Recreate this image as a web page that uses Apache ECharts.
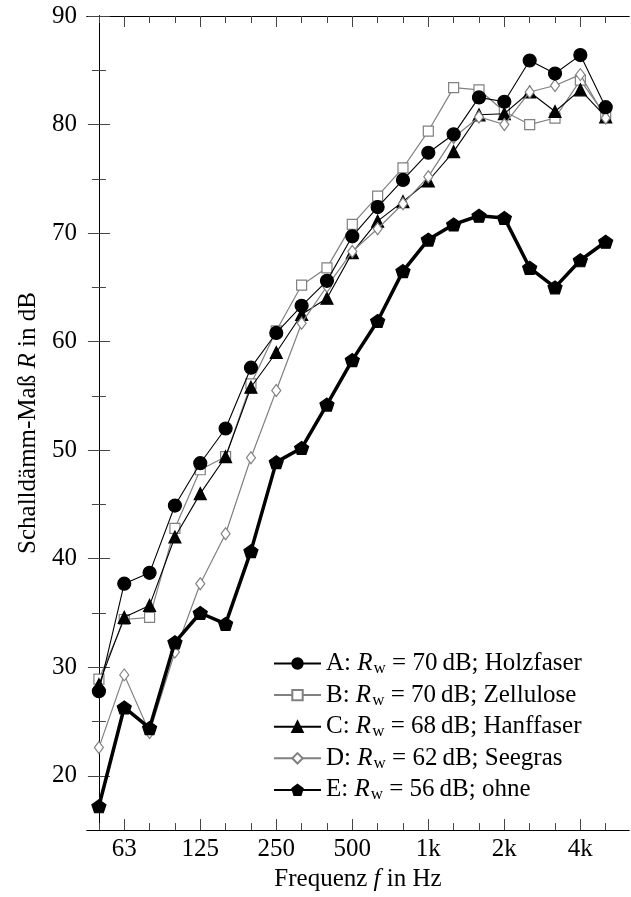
<!DOCTYPE html>
<html>
<head>
<meta charset="utf-8">
<script src="https://cdn.jsdelivr.net/npm/echarts@6/dist/echarts.min.js"></script>
<style>
html, body { margin: 0; padding: 0; background: #fff; }
#chart { width: 631px; height: 897px; }
</style>
</head>
<body>
<div id="chart"></div>
<script>
// Terzbänder (Hz), x-Position = Bandindex
var bands = [50, 63, 80, 100, 125, 160, 200, 250, 315, 400, 500, 630, 800, 1000, 1250, 1600, 2000, 2500, 3150, 4000, 5000];
var tickFreqs = [63, 125, 250, 500, 1000, 2000, 4000];
var tickLabels = ['63', '125', '250', '500', '1k', '2k', '4k'];
var yMajor = [20, 30, 40, 50, 60, 70, 80, 90];
var yMinor = [25, 35, 45, 55, 65, 75, 85];

// Schalldämm-Maß R in dB je Terzband
var holzfaser = [27.8, 37.7, 38.7, 44.9, 48.8, 52.0, 57.6, 60.8, 63.3, 65.6, 69.7, 72.4, 74.9, 77.4, 79.1, 82.5, 82.1, 85.9, 84.7, 86.4, 81.6];
var zellulose = [28.9, 34.4, 34.6, 42.8, 48.2, 49.4, 56.1, 61.0, 65.2, 66.8, 70.8, 73.4, 76.0, 79.4, 83.4, 83.2, 81.2, 80.0, 80.6, 84.1, 80.8];
var hanffaser = [28.4, 34.6, 35.7, 42.0, 46.0, 49.4, 55.8, 59.0, 62.5, 64.0, 68.2, 71.1, 72.9, 74.8, 77.5, 80.9, 81.0, 83.0, 81.2, 83.2, 80.7];
var seegras   = [22.6, 29.3, 24.0, 31.4, 37.7, 42.3, 49.3, 55.5, 61.7, 65.1, 68.3, 70.4, 72.7, 75.2, 78.8, 80.7, 80.0, 83.0, 83.6, 84.6, 80.6];
var ohne      = [17.2, 26.3, 24.4, 32.3, 35.0, 34.0, 40.7, 48.9, 50.2, 54.2, 58.3, 61.9, 66.5, 69.4, 70.8, 71.6, 71.4, 66.8, 65.0, 67.5, 69.2];

var seriesNames = ['A', 'B', 'C', 'D', 'E'];
var rwValues = [70, 70, 68, 62, 56];
var materials = ['Holzfaser', 'Zellulose', 'Hanffaser', 'Seegras', 'ohne'];

var font = "'Liberation Serif', 'DejaVu Serif', serif";
var fs = 25;
var gray = '#808080';
var pentagon = 'path://M0,-1L0.951,-0.309L0.588,0.809L-0.588,0.809L-0.951,-0.309Z';

function pts(arr) {
    return arr.map(function (v, i) { return [i, v]; });
}
var allIdx = bands.map(function (f, i) { return i; });
var labelIdx = tickFreqs.map(function (f) { return bands.indexOf(f); });

var rich = {
    t: { fontFamily: font, fontSize: fs, color: '#000', lineHeight: 26 },
    i: { fontFamily: font, fontSize: fs, fontStyle: 'italic', color: '#000', lineHeight: 26 },
    s: { fontFamily: font, fontSize: 17, color: '#000', padding: [10, 0, 0, 1], lineHeight: 26 }
};

var chart = echarts.init(document.getElementById('chart'));

function xAx(pos, ticks, len, showLabel) {
    return {
        type: 'value', position: pos, min: -0.47, max: 20.92,
        axisLine: { show: true, lineStyle: { color: '#000', width: 1 } },
        axisTick: { show: true, inside: true, length: len, customValues: ticks, lineStyle: { color: '#444', width: 1 } },
        axisLabel: showLabel ? {
            show: true, customValues: labelIdx, margin: 7,
            fontFamily: font, fontSize: fs, color: '#000',
            formatter: function (v) { return tickLabels[labelIdx.indexOf(Math.round(v))] || ''; }
        } : { show: false },
        splitLine: { show: false }
    };
}
function yAx(pos, ticks, len, showLabel) {
    return {
        type: 'value', position: pos, min: 15, max: 90,
        axisLine: { show: true, lineStyle: { color: '#000', width: 1 } },
        axisTick: { show: true, inside: true, length: len, customValues: ticks, lineStyle: { color: '#444', width: 1 } },
        axisLabel: showLabel ? {
            show: true, customValues: yMajor, margin: 10,
            fontFamily: font, fontSize: fs, color: '#000'
        } : { show: false },
        splitLine: { show: false }
    };
}

var xMain = xAx('bottom', allIdx, 7, true);
xMain.name = '{t|Frequenz }{i|f}{t| in Hz}';
xMain.nameLocation = 'middle';
xMain.nameGap = 31;
xMain.nameTextStyle = { rich: rich };

var yMainAx = yAx('left', yMajor, 11, true);
yMainAx.name = '{t|Schalldämm-Maß }{i|R}{t| in dB}';
yMainAx.nameLocation = 'middle';
yMainAx.nameGap = 46;
yMainAx.nameTextStyle = { rich: rich };

var styles = [
    { color: '#000', fill: '#000', symbol: 'circle', size: 13, width: 1.1, z: 5 },
    { color: gray, fill: '#fff', symbol: 'rect', size: 10, width: 1.2, z: 2 },
    { color: '#000', fill: '#000', symbol: 'triangle', size: 12, width: 1.1, z: 3 },
    { color: gray, fill: '#fff', symbol: 'diamond', size: [9, 12], width: 1.2, z: 4 },
    { color: '#000', fill: '#000', symbol: pentagon, size: [14, 13], width: 3.5, z: 6 }
];
var values = [holzfaser, zellulose, hanffaser, seegras, ohne];

var series = seriesNames.map(function (n, k) {
    var s = styles[k];
    return {
        name: n, type: 'line', xAxisIndex: 0, yAxisIndex: 0, z: s.z,
        data: pts(values[k]),
        symbol: s.symbol, symbolSize: s.size, showAllSymbol: true,
        lineStyle: { color: s.color, width: s.width },
        itemStyle: { color: s.fill, borderColor: s.color, borderWidth: 1.2 },
        emphasis: { disabled: true },
        animation: false
    };
});

chart.setOption({
    animation: false,
    backgroundColor: '#fff',
    grid: { left: 87, right: 2, top: 16, bottom: 64 },
    xAxis: [
        xMain,
        xAx('bottom', labelIdx, 11, false),
        xAx('top', allIdx, 7, false),
        xAx('top', labelIdx, 11, false)
    ],
    yAxis: [
        yMainAx,
        yAx('left', yMinor, 7, false),
        yAx('right', yMajor, 11, false),
        yAx('right', yMinor, 7, false)
    ],
    legend: {
        orient: 'vertical', left: 273, top: 650, padding: 0,
        itemWidth: 47, itemHeight: 13, itemGap: 4.6,
        data: seriesNames,
        textStyle: { fontFamily: font, fontSize: fs, color: '#000', rich: rich },
        formatter: function (name) {
            var k = seriesNames.indexOf(name);
            return '{t|' + name + ': }{i|R}{s|w}{t| = ' + rwValues[k] + '\u2009dB; ' + materials[k] + '}';
        }
    },
    series: series
});
</script>
</body>
</html>
